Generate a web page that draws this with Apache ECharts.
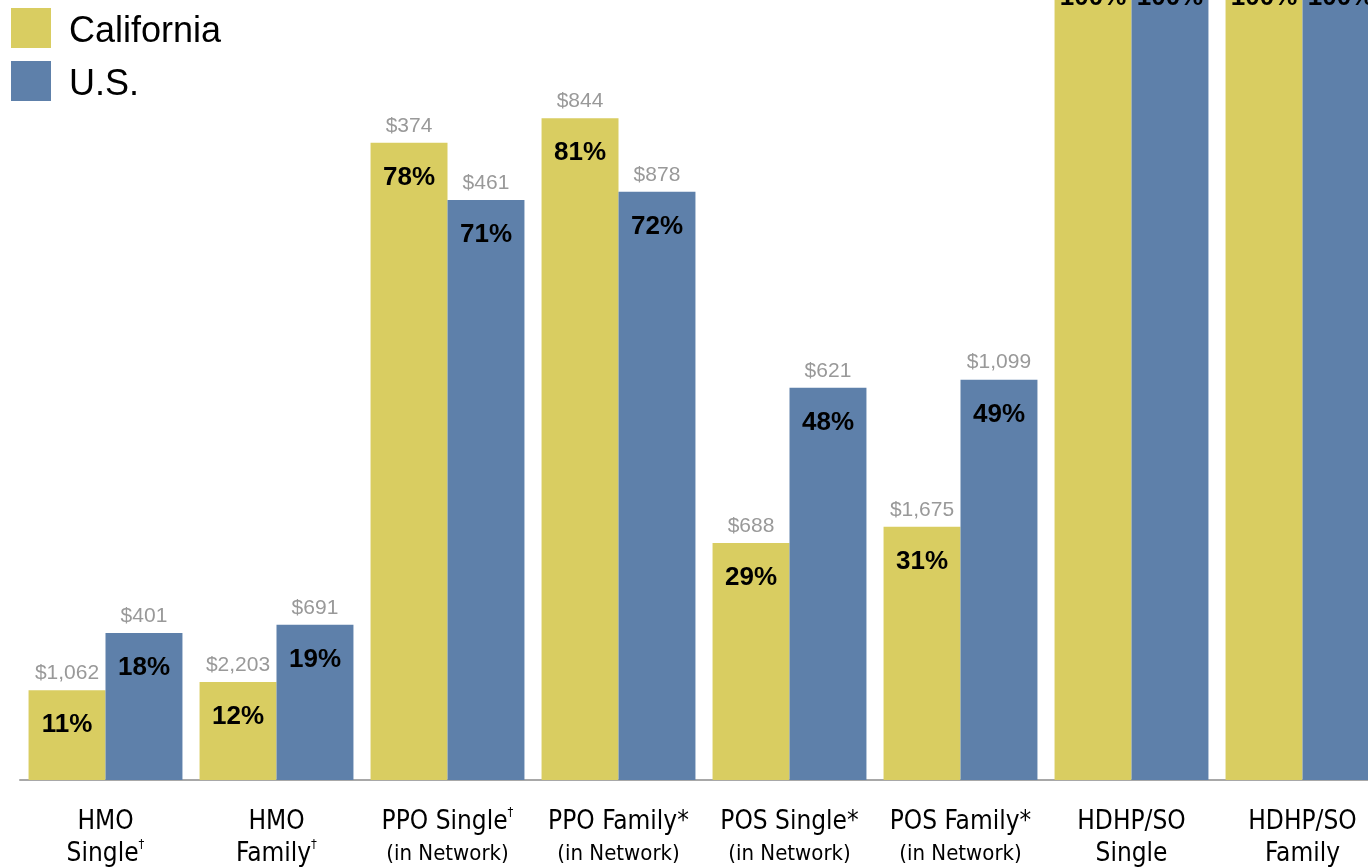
<!DOCTYPE html>
<html>
<head>
<meta charset="utf-8">
<script src="https://cdn.jsdelivr.net/npm/echarts@6/dist/echarts.min.js"></script>
<style>
html,body{margin:0;padding:0;background:#fff;overflow:hidden;width:1368px;height:868px;}
#wrap{position:relative;width:1368px;height:868px;overflow:hidden;}
#chart{position:absolute;left:0;top:-37px;width:1388px;height:905px;}
</style>
</head>
<body>
<div id="wrap"><div id="chart"></div></div>
<script>
const categories = ['HMO\nSingle†', 'HMO\nFamily†', 'PPO Single†\n(in Network)', 'PPO Family*\n(in Network)', 'POS Single*\n(in Network)', 'POS Family*\n(in Network)', 'HDHP/SO\nSingle', 'HDHP/SO\nFamily'];
const seriesNames = ['California', 'U.S.'];
const californiaPct = [11, 12, 78, 81, 29, 31, 100, 100];
const usPct = [18, 19, 71, 72, 48, 49, 100, 100];
const californiaCost = ['$1,062', '$2,203', '$374', '$844', '$688', '$1,675', '', ''];
const usCost = ['$401', '$691', '$461', '$878', '$621', '$1,099', '', ''];

const colors = ['#D9CD61', '#5E80AA'];
const narrow = "'Liberation Sans Narrow', 'DejaVu Sans Condensed', 'Arial Narrow', sans-serif";
const sans = "'Liberation Sans', Arial, Helvetica, sans-serif";

function formatCat(v) {
  return v.split('\n').map(function (ln) {
    const st = ln.charAt(0) === '(' ? 'b' : 'a';
    if (ln.slice(-1) === '†') return '{' + st + '|' + ln.slice(0, -1) + '}{s|†}';
    return '{' + st + '|' + ln + '}';
  }).join('\n');
}

function makeSeries(idx, pct, cost) {
  return {
    name: seriesNames[idx],
    type: 'bar',
    barGap: '0%',
    barCategoryGap: '10%',
    itemStyle: { color: colors[idx] },
    data: pct.map(function (v, i) { return { value: v, cost: cost[i] }; }),
    label: {
      show: true,
      position: 'insideTop',
      distance: 0,
      offset: [0, -43],
      formatter: function (p) {
        return '{d|' + (p.data.cost || ' ') + '}\n{p|' + p.data.value + '%}';
      },
      rich: {
        d: { fontFamily: sans, fontSize: 21, color: '#999999', lineHeight: 52, align: 'center' },
        p: { fontFamily: sans, fontSize: 26, fontWeight: 'bold', color: '#000000', lineHeight: 52, align: 'center' }
      }
    }
  };
}

const chart = echarts.init(document.getElementById('chart'), null, { renderer: 'canvas' });
chart.setOption({
  animation: false,
  backgroundColor: '#ffffff',
  legend: {
    orient: 'vertical',
    left: 6,
    top: 40,
    itemWidth: 40,
    itemHeight: 40,
    itemGap: 11,
    icon: 'rect',
    formatter: '{t|{name}}',
    textStyle: {
      fontFamily: sans, fontSize: 36, color: '#000000', padding: [0, 0, 0, 13],
      rich: { t: { fontFamily: sans, fontSize: 36, color: '#000000', padding: [8, 0, 0, 0] } }
    },
    data: seriesNames
  },
  grid: { left: 20, right: 0, top: 0, bottom: 88, containLabel: false },
  xAxis: {
    type: 'category',
    data: categories,
    axisTick: { show: false },
    axisLine: { show: true, lineStyle: { color: '#a8a8a8', width: 2 } },
    axisLabel: {
      interval: 0,
      margin: 26,
      formatter: formatCat,
      rich: {
        a: { fontFamily: narrow, fontSize: 26, color: '#000', lineHeight: 32 },
        b: { fontFamily: narrow, fontSize: 22, color: '#000', lineHeight: 32 },
        s: { fontFamily: narrow, fontSize: 13, color: '#000', lineHeight: 32, verticalAlign: 'top', padding: [0, 0, 10, 0] }
      }
    }
  },
  yAxis: {
    type: 'value',
    min: 0,
    max: 100,
    show: false,
    splitLine: { show: false }
  },
  series: [makeSeries(0, californiaPct, californiaCost), makeSeries(1, usPct, usCost)]
});
</script>
</body>
</html>
